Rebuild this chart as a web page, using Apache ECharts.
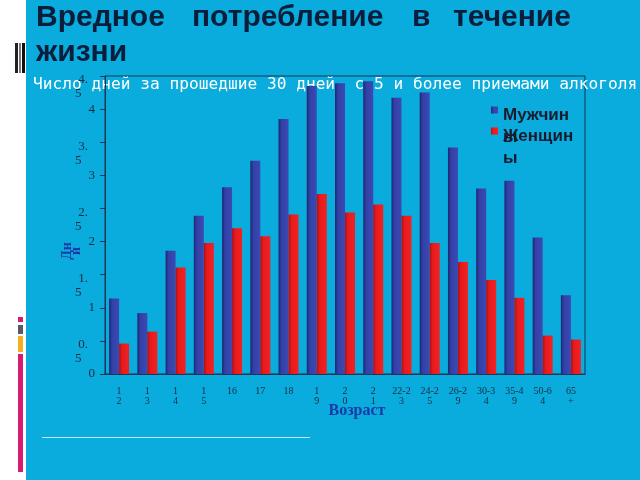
<!DOCTYPE html>
<html>
<head>
<meta charset="utf-8">
<script src="https://cdn.jsdelivr.net/npm/echarts@6/dist/echarts.min.js"></script>
<style>
html,body{margin:0;padding:0;background:#09acdc;}
#chart{width:640px;height:480px;}
</style>
</head>
<body>
<div id="chart"></div>
<script>
var categories = ['12','13','14','15','16','17','18','19','20','21','22-23','24-25','26-29','30-34','35-49','50-64','65+'];
var xTickLabels = ['1\n2','1\n3','1\n4','1\n5','16','17','18','1\n9','2\n0','2\n1','22-2\n3','24-2\n5','26-2\n9','30-3\n4','35-4\n9','50-6\n4','65\n+'];
var menValues = [1.14, 0.92, 1.86, 2.39, 2.82, 3.22, 3.85, 4.35, 4.39, 4.42, 4.17, 4.25, 3.42, 2.80, 2.92, 2.06, 1.19];
var womenValues = [0.46, 0.64, 1.61, 1.98, 2.20, 2.08, 2.41, 2.72, 2.44, 2.56, 2.39, 1.98, 1.69, 1.42, 1.15, 0.58, 0.52];
var seriesNames = ['Мужчины', 'Женщины'];
var titleWords = ['Вредное', 'потребление', 'в', 'течение'];
var titleLine2 = 'жизни';
var subtitleText = 'Число дней за прошедшие 30 дней, с 5 и более приемами алкоголя';
var yAxisTitle = 'Дн\nи';
var xAxisTitle = 'Возраст';

var chart = echarts.init(document.getElementById('chart'), null, {renderer: 'canvas'});

var titleX = [36, 192, 412, 453];
var titleFont = 'bold 30px "Liberation Sans"';
var graphics = [];
graphics.push({type:'rect', left:0, top:0, z:0, shape:{width:26, height:480}, style:{fill:'#ffffff'}});
graphics.push({type:'rect', left:15, top:43, z:1, shape:{width:3, height:30}, style:{fill:'#222222'}});
graphics.push({type:'rect', left:19, top:43, z:1, shape:{width:2, height:30}, style:{fill:'#777777'}});
graphics.push({type:'rect', left:22, top:43, z:1, shape:{width:3, height:30}, style:{fill:'#111111'}});
graphics.push({type:'rect', left:18, top:317, z:1, shape:{width:5, height:5}, style:{fill:'#d81b72'}});
graphics.push({type:'rect', left:18, top:325, z:1, shape:{width:5, height:9}, style:{fill:'#555a66'}});
graphics.push({type:'rect', left:18, top:336, z:1, shape:{width:5, height:16}, style:{fill:'#f0b020'}});
graphics.push({type:'rect', left:18, top:354, z:1, shape:{width:5, height:118}, style:{fill:'#d81b72'}});
graphics.push({type:'rect', left:42, top:437, z:1, shape:{width:268, height:1}, style:{fill:'#b8ecf8'}});
for (var i = 0; i < titleWords.length; i++) {
  graphics.push({type:'text', x:titleX[i], y:17.5, z:1, style:{text:titleWords[i], fill:'#0a1e3c', font:titleFont, verticalAlign:'middle'}});
}
graphics.push({type:'text', x:36, y:52.5, z:1, style:{text:titleLine2, fill:'#0a1e3c', font:titleFont, verticalAlign:'middle'}});
graphics.push({type:'text', x:33, y:85, z:0, style:{text:subtitleText, fill:'#ffffff', font:'16.2px "DejaVu Sans Mono"', verticalAlign:'middle'}});

var option = {
  backgroundColor: '#09acdc',
  animation: false,
  graphic: graphics,
  legend: {
    orient: 'vertical',
    left: 491,
    top: 72,
    padding: 0,
    itemGap: -55,
    itemWidth: 7,
    itemHeight: 7,
    icon: 'rect',
    data: seriesNames,
    formatter: function (n) { return '{s| }\n' + n.slice(0, -1) + '\n' + n.slice(-1); },
    textStyle: {
      fontFamily: '"Liberation Sans"', fontWeight: 'bold', fontSize: 17,
      color: '#1a1a2e', lineHeight: 22,
      rich: { s: { fontSize: 1, lineHeight: 32 } }
    }
  },
  grid: {
    left: 105, right: 55, top: 76, bottom: 106,
    show: true, borderColor: '#1a3555', borderWidth: 1, backgroundColor: 'transparent'
  },
  xAxis: {
    type: 'category',
    data: categories,
    name: xAxisTitle,
    nameLocation: 'middle',
    nameGap: 29,
    nameMoveOverlap: false,
    nameTextStyle: {fontFamily: '"Liberation Serif"', fontWeight: 'bold', fontSize: 16, color: '#1a3aa8', padding: [0, 0, 0, 24]},
    axisLine: {lineStyle: {color: '#1a3555', width: 1}},
    axisTick: {show: false},
    axisLabel: {
      interval: 0, margin: 12,
      fontFamily: '"Liberation Serif"', fontSize: 10, color: '#1a2a40', lineHeight: 10,
      formatter: function (v, idx) { return xTickLabels[idx]; }
    }
  },
  yAxis: {
    type: 'value',
    min: 0, max: 4.5, interval: 0.5,
    name: yAxisTitle,
    nameLocation: 'middle',
    nameRotate: 90,
    nameGap: 24,
    nameMoveOverlap: false,
    nameTextStyle: {fontFamily: '"Liberation Serif"', fontWeight: 'bold', fontSize: 14, color: '#1a3aa8', padding: [0, 52, 0, 0], lineHeight: 9},
    axisLine: {show: true, lineStyle: {color: '#1a3555', width: 1}},
    axisTick: {show: true, length: 5, lineStyle: {color: '#1a3555'}},
    splitLine: {show: false},
    axisLabel: {
      margin: 10,
      fontFamily: '"Liberation Serif"', fontSize: 13, color: '#1a2a40', lineHeight: 14,
      formatter: function (v) {
        var s = String(v);
        if (s.indexOf('.') < 0) return s;
        var p = s.split('.');
        return '{e| }\n{d|' + p[0] + '.}\n{d|' + p[1] + '  }';
      },
      rich: {
        e: { fontSize: 1, lineHeight: 22 },
        d: { fontFamily: '"Liberation Serif"', fontSize: 13, color: '#1a2a40', lineHeight: 14, padding: [0, 7, 0, 0] }
      }
    }
  },
  series: [
    {
      name: seriesNames[0], type: 'bar', data: menValues, barWidth: 10, barGap: '0%', z: 3,
      itemStyle: {color: new echarts.graphic.LinearGradient(0, 0, 1, 0, [
        {offset: 0, color: '#1c2670'}, {offset: 0.3, color: '#3340a6'}, {offset: 1, color: '#3b49b4'}])}
    },
    {
      name: seriesNames[1], type: 'bar', data: womenValues, barWidth: 10, z: 3,
      itemStyle: {color: new echarts.graphic.LinearGradient(0, 0, 1, 0, [
        {offset: 0, color: '#a81216'}, {offset: 0.3, color: '#e81a1c'}, {offset: 1, color: '#f02222'}])}
    }
  ]
};
chart.setOption(option);
</script>
</body>
</html>
